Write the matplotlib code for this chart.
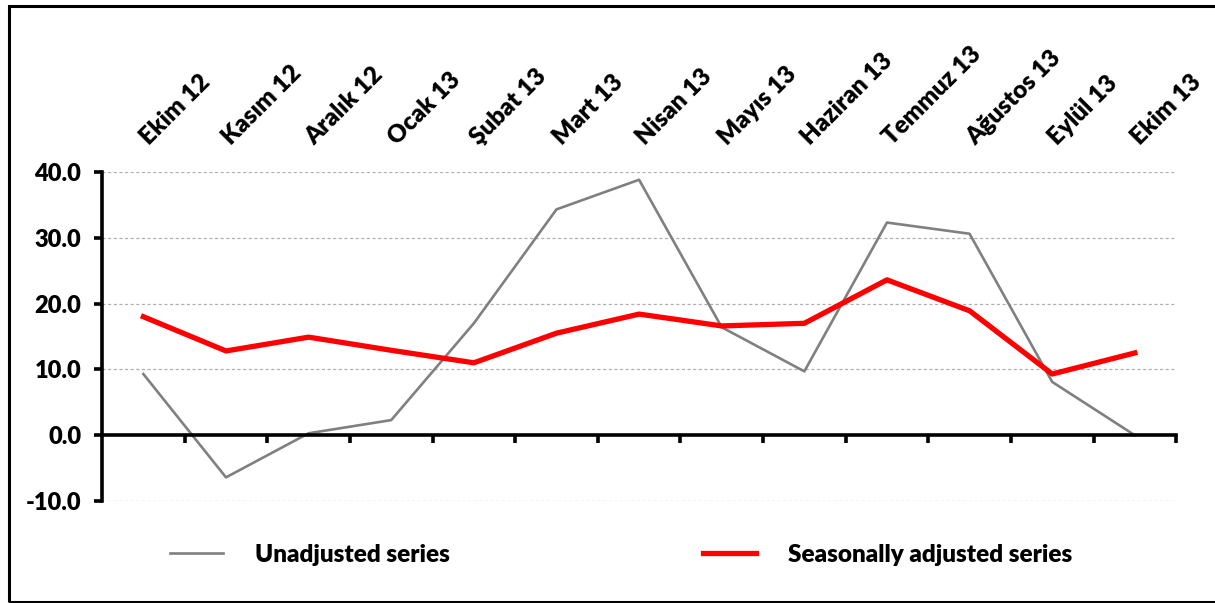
import matplotlib
matplotlib.use('Agg')
import matplotlib.pyplot as plt
from matplotlib.patches import Rectangle
import numpy as np

plt.rcParams['font.family'] = ['Lato', 'DejaVu Sans']
plt.rcParams['font.weight'] = 'heavy'

months = ['Ekim 12', 'Kasım 12', 'Aralık 12', 'Ocak 13', 'Şubat 13', 'Mart 13',
          'Nisan 13', 'Mayıs 13', 'Haziran 13', 'Temmuz 13', 'Ağustos 13',
          'Eylül 13', 'Ekim 13']
unadjusted = [9.3, -6.4, 0.3, 2.3, 17.0, 34.3, 38.8, 16.4, 9.7, 32.3, 30.6, 8.1, 0.0]
seasonal = [18.0, 12.8, 14.9, 12.9, 11.0, 15.5, 18.4, 16.6, 17.0, 23.6, 18.9, 9.3, 12.5]
yticks = [-10, 0, 10, 20, 30, 40]

fig = plt.figure(figsize=(12.15, 6.03), dpi=100)
ax = fig.add_axes([0.084, 0.169, 0.884, 0.546])

x = np.arange(len(months))
ax.plot(x, unadjusted, color='#808080', lw=1.9, label='Unadjusted series')
ax.plot(x, seasonal, color='#ff0000', lw=3.8, label='Seasonally adjusted series',
        solid_joinstyle='round')

ax.set_xlim(-0.5, len(months) - 0.5)
ax.set_ylim(-10, 40)
ax.set_yticks(yticks)
ax.set_yticklabels(['%.1f' % v for v in yticks], fontsize=17, fontweight='heavy')
for v in yticks:
    if v != 0:
        ax.axhline(v, color='#b0b0b0', lw=0.9, ls=(0, (2.5, 2)), zorder=0)

for s in ['top', 'right']:
    ax.spines[s].set_visible(False)
ax.spines['left'].set_linewidth(2.6)
ax.spines['bottom'].set_position(('data', 0))
ax.spines['bottom'].set_linewidth(2.6)
ax.tick_params(axis='y', direction='out', length=6, width=2.6, pad=9)
ax.set_xticks(x + 0.5)
ax.set_xticklabels([])
ax.tick_params(axis='x', direction='out', length=6, width=2.6)

# month labels above the plot
for i, m in enumerate(months):
    ax.text(i + 0.1, 1.07, m, transform=ax.get_xaxis_transform(),
            rotation=45, rotation_mode='anchor', ha='left', va='bottom',
            fontsize=17.5, fontweight='heavy')

fig.legend(loc='center', bbox_to_anchor=(0.511, 0.08), ncol=2, frameon=False,
           prop={'size': 17.5, 'weight': 'heavy'},
           handlelength=2.2, handletextpad=1.3, columnspacing=10.4)

fig.patches.append(Rectangle((0.007, 0.002), 0.995, 0.988, transform=fig.transFigure,
                             fill=False, edgecolor='black', lw=2.2))

fig.savefig('out.png', dpi=100)
